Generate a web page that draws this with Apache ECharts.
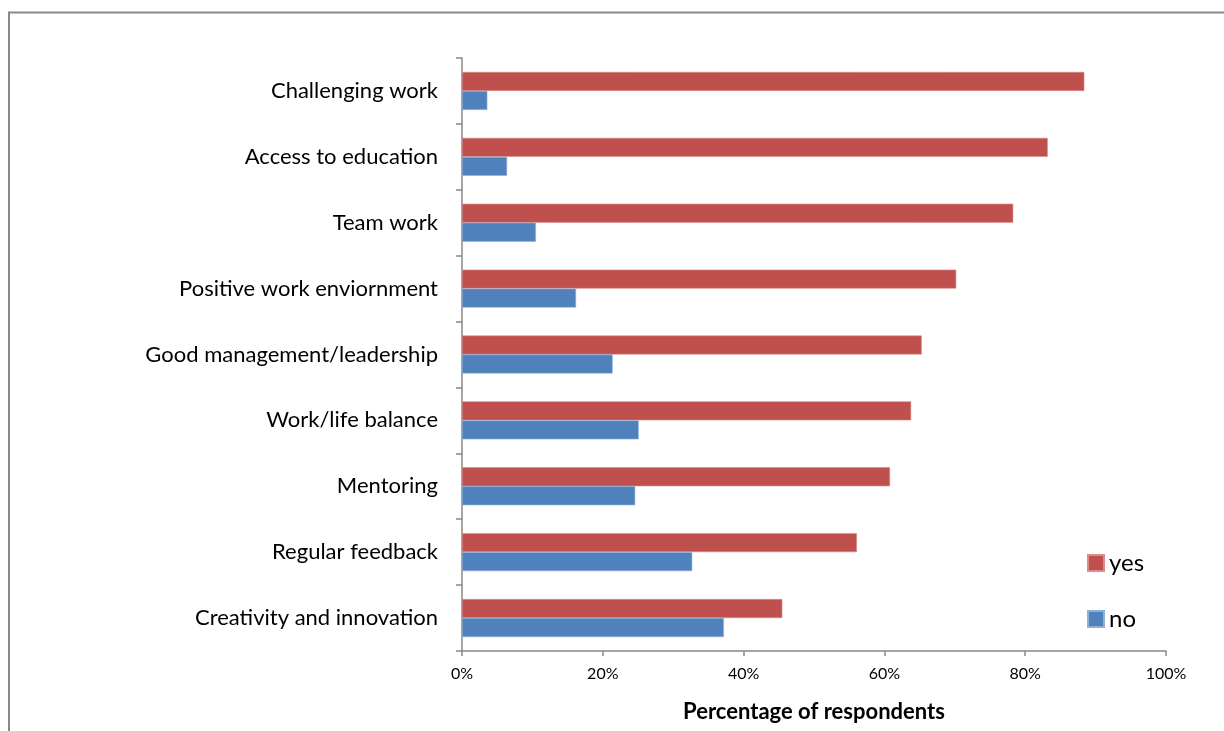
<!DOCTYPE html>
<html>
<head>
<meta charset="utf-8">
<script src="https://cdn.jsdelivr.net/npm/echarts@6/dist/echarts.min.js"></script>
<style>html,body{margin:0;padding:0;background:#fff;}#c{width:1224px;height:731px;}</style>
</head>
<body>
<div id="c"></div>
<script>
const categories = ["Challenging work","Access to education","Team work","Positive work enviornment","Good management/leadership","Work/life balance","Mentoring","Regular feedback","Creativity and innovation"];
const yesValues = [88.4, 83.2, 78.3, 70.2, 65.3, 63.8, 60.8, 56.1, 45.5];
const noValues = [3.6, 6.4, 10.5, 16.2, 21.4, 25.1, 24.6, 32.7, 37.2];
const xTicks = [0, 20, 40, 60, 80, 100];

const font = 'Lato, "Open Sans", sans-serif';
const chart = echarts.init(document.getElementById('c'), null, {renderer: 'canvas'});
chart.setOption({
  animation: false,
  backgroundColor: '#fff',
  textStyle: {fontFamily: font},
  graphic: [{
    type: 'rect',
    shape: {x: 9, y: 12.5, width: 1400, height: 900},
    style: {fill: 'none', stroke: '#888', lineWidth: 2}
  }],
  grid: {left: 462, right: 58, top: 58, bottom: 80, containLabel: false},
  legend: {
    orient: 'vertical',
    left: 1087,
    top: 551,
    padding: 0,
    itemWidth: 16,
    itemHeight: 16,
    itemGap: 32,
    icon: 'rect',
    textStyle: {fontSize: 24, color: '#000', fontFamily: font},
    data: ['yes', 'no']
  },
  xAxis: {
    type: 'value',
    min: xTicks[0],
    max: xTicks[xTicks.length - 1],
    interval: 20,
    axisLine: {show: true, lineStyle: {color: '#888', width: 1.5}},
    axisTick: {show: true, length: 5, lineStyle: {color: '#888', width: 1.5}},
    splitLine: {show: false},
    axisLabel: {formatter: v => v + '%', fontSize: 16, color: '#000', margin: 15, fontFamily: font},
    name: 'Percentage of respondents',
    nameLocation: 'middle',
    nameGap: 50,
    nameTextStyle: {fontSize: 22, fontWeight: 'bold', color: '#000', fontFamily: font}
  },
  yAxis: {
    type: 'category',
    data: categories,
    inverse: true,
    axisLine: {show: true, lineStyle: {color: '#888', width: 1.5}},
    axisTick: {show: true, length: 6, lineStyle: {color: '#888', width: 1.5}},
    axisLabel: {fontSize: 22, color: '#000', margin: 24, fontFamily: font}
  },
  series: [
    {name: 'yes', type: 'bar', data: yesValues, barWidth: 19, barGap: '0%',
     itemStyle: {color: '#C0504D', borderColor: '#D98C8A', borderWidth: 0.6}},
    {name: 'no', type: 'bar', data: noValues, barWidth: 19, barGap: '0%',
     itemStyle: {color: '#4F81BD', borderColor: '#8FB0D8', borderWidth: 0.6}}
  ]
});
</script>
</body>
</html>
